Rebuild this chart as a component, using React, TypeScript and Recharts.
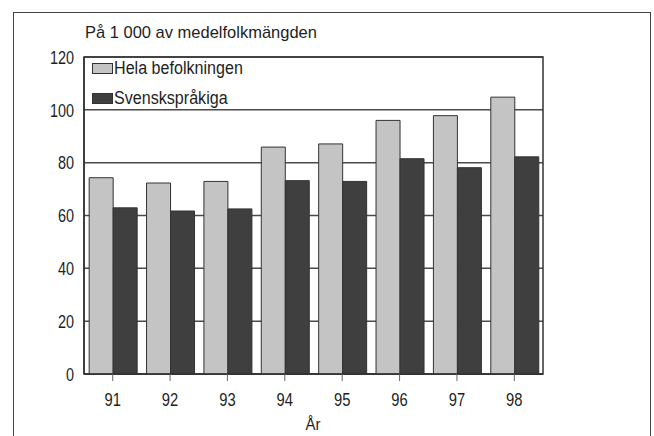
import React from 'react';
import { BarChart, Bar, XAxis, YAxis, CartesianGrid, ReferenceArea } from 'recharts';

const years = ['91', '92', '93', '94', '95', '96', '97', '98'];
const helaBefolkningen = [74.3, 72.3, 72.9, 85.9, 87.1, 96.0, 97.8, 104.8];
const svenskspråkiga = [62.9, 61.7, 62.5, 73.2, 72.9, 81.5, 78.1, 82.2];
const seriesNames = ['Hela befolkningen', 'Svenskspråkiga'];
const yTicks = [0, 20, 40, 60, 80, 100, 120];
const title = 'På 1 000 av medelfolkmängden';
const xTitle = 'År';

const data = years.map((y, i) => ({ year: y, hela: helaBefolkningen[i], svensk: svenskspråkiga[i] }));

const FONT = '"Liberation Sans", Arial, sans-serif';
const LIGHT = '#c4c4c4';
const DARK = '#3f3f3f';
const INK = '#333333';
const TEXT = '#1e1e1e';

const XTick = (props: any) => {
  const { x, y, payload } = props;
  return (
    <g transform={`translate(${x},${y})`}>
      <text transform="scale(0.82,1)" textAnchor="middle" dy="0.71em" fontSize={18} fontFamily={FONT} fill={TEXT}>
        {payload.value}
      </text>
    </g>
  );
};

const YTick = (props: any) => {
  const { x, y, payload } = props;
  return (
    <g transform={`translate(${x},${y})`}>
      <text transform="scale(0.78,1)" textAnchor="end" dy="0.36em" fontSize={18.5} fontFamily={FONT} fill={TEXT}>
        {payload.value}
      </text>
    </g>
  );
};

const scaled = (s: number): React.CSSProperties => ({ transform: `scaleX(${s})`, transformOrigin: 'left center', display: 'inline-block' });

export default function App() {
  return (
    <div style={{ position: 'absolute', left: 0, top: 0, width: 654, height: 436, background: '#fff', overflow: 'hidden', fontFamily: FONT, color: TEXT }}>
      <BarChart
        width={654}
        height={436}
        data={data}
        margin={{ top: 57, right: 111, left: 24, bottom: 32 }}
        barCategoryGap="9%"
        barGap={0}
      >
        <CartesianGrid horizontal={true} vertical={false} stroke="#4a4a4a" strokeWidth={1.5} />
        <XAxis
          dataKey="year"
          height={30}
          axisLine={{ stroke: INK, strokeWidth: 1.5 }}
          tickLine={{ stroke: '#666', strokeWidth: 1 }}
          tickSize={7}
          tickMargin={12}
          tick={<XTick />}
        />
        <YAxis
          width={60}
          domain={[0, 120]}
          ticks={yTicks}
          interval={0}
          axisLine={{ stroke: INK, strokeWidth: 1.5 }}
          tickLine={false}
          tickSize={0}
          tickMargin={10}
          tick={<YTick />}
        />
        <Bar dataKey="hela" name={seriesNames[0]} fill={LIGHT} stroke={INK} strokeWidth={1} isAnimationActive={false} />
        <Bar dataKey="svensk" name={seriesNames[1]} fill={DARK} stroke={INK} strokeWidth={1} isAnimationActive={false} />
        <ReferenceArea y1={0} y2={120} fill="none" stroke={INK} strokeWidth={1.5} ifOverflow="visible" />
      </BarChart>

      {/* outer frame */}
      <div style={{ position: 'absolute', left: 13, top: 12, width: 636, height: 440, border: '1.5px solid #444', pointerEvents: 'none' }} />

      {/* title */}
      <div style={{ position: 'absolute', left: 85, top: 22, fontSize: 17, lineHeight: '22px', whiteSpace: 'nowrap' }}>
        <span style={scaled(0.97)}>{title}</span>
      </div>

      {/* legend */}
      {seriesNames.map((name, i) => (
        <div key={name} style={{ position: 'absolute', left: 92, top: 57 + i * 30, display: 'flex', alignItems: 'center', whiteSpace: 'nowrap' }}>
          <div style={{ width: 19, height: 9, background: i === 0 ? LIGHT : DARK, border: `1px solid ${INK}`, marginRight: 1 }} />
          <span style={{ fontSize: 17.5, lineHeight: '22px', ...scaled(0.92) }}>{name}</span>
        </div>
      ))}

      {/* x axis title */}
      <div style={{ position: 'absolute', left: 313, top: 415, transform: 'translateX(-50%) scaleX(0.88)', fontSize: 17, lineHeight: '20px' }}>{xTitle}</div>
    </div>
  );
}
